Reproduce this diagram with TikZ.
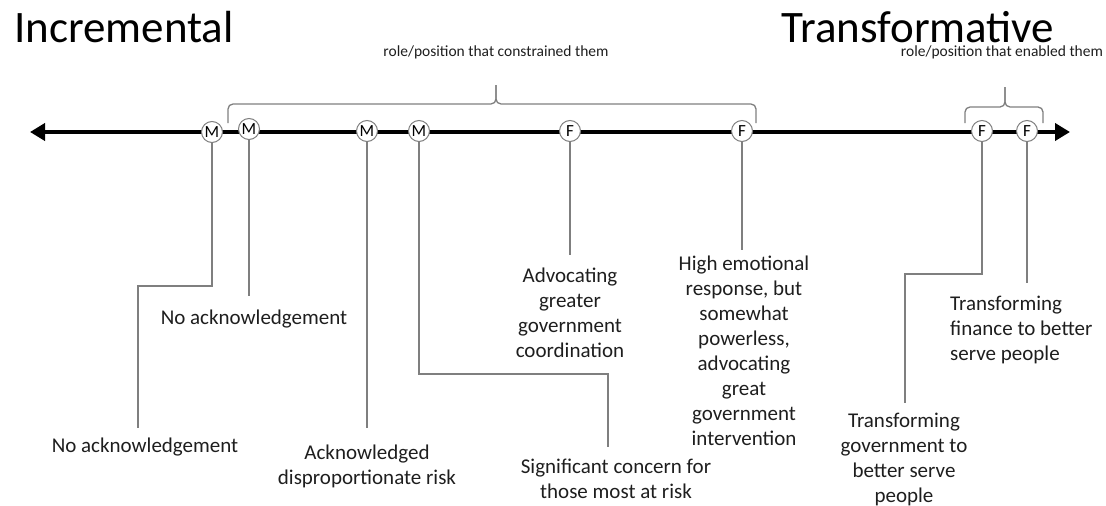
\documentclass[tikz,border=0pt]{standalone}
\usepackage{fontspec}
\setmainfont{Carlito}
\usetikzlibrary{arrows.meta}
\definecolor{L}{RGB}{127, 127, 127}
\definecolor{T}{RGB}{30, 30, 30}

\begin{document}
\begin{tikzpicture}[x=1pt,y=-1pt,
	punto/.style={circle,draw=L,fill=white,line width=1pt,minimum size=21pt,inner sep=0pt,font=\fontsize{17}{17}\selectfont},
	linea/.style={draw=L,line width=1.3pt},
	llave/.style={draw=L,line width=1.3pt,rounded corners=5pt},
	etiq/.style={align=center,inner sep=0pt,font=\fontsize{21}{25}\selectfont,text=T},
	nota/.style={inner sep=0pt,font=\fontsize{15.5}{16}\selectfont,text=T},
	titulo/.style={inner sep=0pt,font=\fontsize{45}{45}\selectfont}]
	\useasboundingbox (0,0) rectangle (1106,506);

	%Titulos
	\node[titulo,anchor=base west] (inc) at (14,42) {Incremental};
	\node[titulo,anchor=base west] (tra) at (781,42) {Transformative};

	%Eje principal
	\coordinate (izq) at (30,132);
	\coordinate (der) at (1070,132);
	\draw[line width=4pt,{Triangle[length=15pt,width=17pt]}-{Triangle[length=15pt,width=17pt]}] (izq) -- (der);

	%Extremos de las lineas
	\coordinate (c1) at (138,286);
	\coordinate (e1) at (138,428);
	\coordinate (e2) at (249,296);
	\coordinate (e3) at (367,428);
	\coordinate (c4) at (608,374);
	\coordinate (e4) at (608,447);
	\coordinate (e5) at (570,255);
	\coordinate (e6) at (742,250);
	\coordinate (c7) at (905,274);
	\coordinate (e7) at (905,403);
	\coordinate (e8) at (1027,283);

	%Lineas hacia las etiquetas
	\draw[linea] (212,132) |- (c1) -- (e1);
	\draw[linea] (249,129) -- (e2);
	\draw[linea] (367,131) -- (e3);
	\draw[linea] (419,131) |- (c4) -- (e4);
	\draw[linea] (570,131) -- (e5);
	\draw[linea] (742,131) -- (e6);
	\draw[linea] (982,131) |- (c7) -- (e7);
	\draw[linea] (1027,131) -- (e8);

	%Puntos M y F
	\node[punto] (m1) at (212,132) {M};
	\node[punto] (m2) at (249,129) {M};
	\node[punto] (m3) at (367,131) {M};
	\node[punto] (m4) at (419,131) {M};
	\node[punto] (f1) at (570,131) {F};
	\node[punto] (f2) at (742,131) {F};
	\node[punto] (f3) at (982,131) {F};
	\node[punto] (f4) at (1027,131) {F};

	%Llave izquierda
	\draw[llave] (228,123) |- (496,104) -- (496,85);
	\draw[llave] (756,123) |- (496,104) -- (496,85);
	\node[nota,anchor=base] (n1) at (496,56) {role/position that constrained them};

	%Llave derecha
	\draw[llave] (965,123) |- (1005,107) -- (1005,87);
	\draw[llave] (1043,123) |- (1005,107) -- (1005,87);
	\node[nota,anchor=base] (n2) at (1002,56) {role/position that enabled them};

	%Etiquetas
	\node[etiq,anchor=base] (a1) at (145,452) {No acknowledgement};
	\node[etiq,anchor=base] (a2) at (254,324) {No acknowledgement};
	\node[etiq,anchor=north] (a3) at (367,445) {Acknowledged\\disproportionate risk};
	\node[etiq,anchor=north] (a4) at (616,459) {Significant concern for\\those most at risk};
	\node[etiq,anchor=north] (a5) at (570,268) {Advocating\\greater\\government\\coordination};
	\node[etiq,anchor=north] (a6) at (744,256) {High emotional\\response, but\\somewhat\\powerless,\\advocating\\great\\government\\intervention};
	\node[etiq,anchor=north] (a7) at (904,413) {Transforming\\government to\\better serve\\people};
	\node[etiq,anchor=north west,align=left] (a8) at (950,296) {Transforming\\finance to better\\serve people};
\end{tikzpicture}
\end{document}
